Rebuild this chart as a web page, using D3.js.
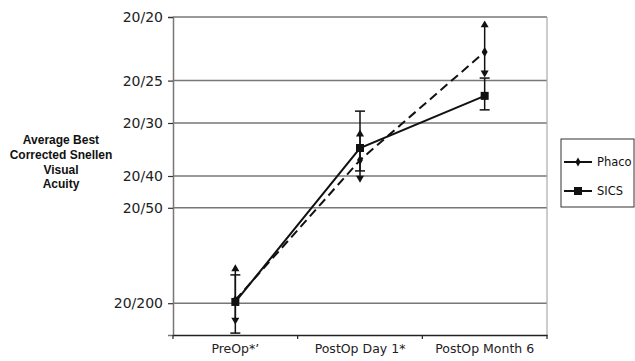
<!DOCTYPE html>
<html>
<head>
<meta charset="utf-8">
<script src="https://cdn.jsdelivr.net/npm/d3@7"></script>
<style>
  body { margin: 0; background: #fff; overflow: hidden; }
  svg { display: block; }
</style>
</head>
<body>
<svg id="chart"></svg>
<script>
// categories on the x axis
const categories = ['PreOp*\u2019', 'PostOp Day 1*', 'PostOp Month 6'];
// y values are decimal acuity (20/20 = 1.0), labels are Snellen
const tickValues = [1.0, 0.8, 0.6667, 0.5, 0.4, 0.1];
const tickLabels = ['20/20', '20/25', '20/30', '20/40', '20/50', '20/200'];

// Phaco series (mean, lower, upper)
const phacoMean = [0.11, 0.55, 0.89];
const phacoLow = [0.041, 0.487, 0.818];
const phacoHigh = [0.214, 0.638, 0.981];
// SICS series
const sicsMean = [0.104, 0.588, 0.752];
const sicsLow = [0.006, 0.516, 0.708];
const sicsHigh = [0.189, 0.704, 0.808];

const width = 635, height = 361;
const margin = { top: 17, right: 88, bottom: 26, left: 173 },
  innerWidth = width - margin.left - margin.right,
  innerHeight = height - margin.top - margin.bottom;

const svg = d3.select('#chart').attr('width', width).attr('height', height);
const g = svg.append('g').attr('transform', `translate(${margin.left},${margin.top})`);

const x = d3.scaleBand().domain(categories).range([0, innerWidth]);
const y = d3.scaleLinear().domain([0, 1]).range([innerHeight, 0]);

// gridlines
g.selectAll('.grid').data(tickValues).join('line')
  .attr('x1', 0).attr('x2', innerWidth)
  .attr('y1', d => y(d)).attr('y2', d => y(d))
  .attr('stroke', '#777').attr('stroke-width', 1.5);

// right border
g.append('line').attr('x1', innerWidth).attr('x2', innerWidth).attr('y1', 0).attr('y2', innerHeight)
  .attr('stroke', '#aaa').attr('stroke-width', 1.2);

// y axis
const yAxis = g.append('g')
  .call(d3.axisLeft(y).tickValues(tickValues).tickFormat((d, i) => tickLabels[i]).tickSize(5).tickPadding(5));
yAxis.select('.domain').attr('stroke', '#777').attr('stroke-width', 1.5);
yAxis.selectAll('.tick line').attr('stroke', '#333').attr('stroke-width', 1.2);
yAxis.selectAll('text').attr('font-family', 'DejaVu Sans').attr('font-size', 14).attr('fill', '#222');

// x axis
const xAxis = g.append('g').attr('transform', `translate(0,${innerHeight})`)
  .call(d3.axisBottom(x).tickSize(0).tickPadding(9));
xAxis.select('.domain').attr('stroke', '#222').attr('stroke-width', 1.5);
xAxis.selectAll('text').attr('font-family', 'DejaVu Sans').attr('font-size', 12.5).attr('fill', '#222');
// tick marks between categories
const bounds = [0, x.step(), x.step() * 2, innerWidth];
g.selectAll('.xtick').data(bounds).join('line')
  .attr('x1', d => d).attr('x2', d => d)
  .attr('y1', innerHeight).attr('y2', innerHeight + 4)
  .attr('stroke', '#222').attr('stroke-width', 1.2);

const cx = i => x(categories[i]) + x.bandwidth() / 2;

// error bars
const errG = g.append('g');
categories.forEach((c, i) => {
  errG.append('line').attr('x1', cx(i)).attr('x2', cx(i))
    .attr('y1', y(phacoLow[i])).attr('y2', y(phacoHigh[i]))
    .attr('stroke', '#111').attr('stroke-width', 1.5);
  errG.append('line').attr('x1', cx(i)).attr('x2', cx(i))
    .attr('y1', y(sicsLow[i])).attr('y2', y(sicsHigh[i]))
    .attr('stroke', '#111').attr('stroke-width', 1.5);
  // SICS flat caps
  [sicsLow[i], sicsHigh[i]].forEach(v => {
    errG.append('line').attr('x1', cx(i) - 5).attr('x2', cx(i) + 5)
      .attr('y1', y(v)).attr('y2', y(v))
      .attr('stroke', '#111').attr('stroke-width', 1.5);
  });
  // Phaco arrow ends
  errG.append('path').attr('d', d3.symbol(d3.symbolTriangle, 28)())
    .attr('transform', `translate(${cx(i)},${y(phacoHigh[i]) + 2})`).attr('fill', '#111');
  errG.append('path').attr('d', d3.symbol(d3.symbolTriangle, 28)())
    .attr('transform', `translate(${cx(i)},${y(phacoLow[i]) - 2}) rotate(180)`).attr('fill', '#111');
});

// lines
const line = d3.line().x((d, i) => cx(i)).y(d => y(d));
g.append('path').datum(phacoMean).attr('d', line)
  .attr('fill', 'none').attr('stroke', '#111').attr('stroke-width', 2).attr('stroke-dasharray', '9,5');
g.append('path').datum(sicsMean).attr('d', line)
  .attr('fill', 'none').attr('stroke', '#111').attr('stroke-width', 2);

// markers
g.selectAll('.phaco').data(phacoMean).join('path')
  .attr('d', d3.symbol(d3.symbolDiamond, 30)())
  .attr('transform', (d, i) => `translate(${cx(i)},${y(d)})`).attr('fill', '#111');
g.selectAll('.sics').data(sicsMean).join('rect')
  .attr('x', (d, i) => cx(i) - 4).attr('y', d => y(d) - 4)
  .attr('width', 8).attr('height', 8).attr('fill', '#111');

// y axis title, one text per line
const title = ['Average Best', 'Corrected Snellen', 'Visual', 'Acuity'];
svg.selectAll('.ytitle').data(title).join('text')
  .attr('class', 'ytitle')
  .attr('x', 61).attr('y', (d, i) => 144 + i * 14.8)
  .attr('font-family', 'Liberation Sans, Arial').attr('font-weight', 'bold').attr('font-size', 12)
  .attr('text-anchor', 'middle').attr('fill', '#111')
  .text(d => d);

// legend (box runs to the right edge of the picture)
const legend = svg.append('g').attr('transform', 'translate(561,139)');
legend.append('rect').attr('x', 0).attr('y', 0).attr('width', 73).attr('height', 68)
  .attr('fill', '#fff').attr('stroke', '#333').attr('stroke-width', 1);
const legendItems = ['Phaco', 'SICS'];
legendItems.forEach((name, i) => {
  const ly = 23 + i * 29;
  legend.append('line').attr('x1', 3).attr('x2', 31).attr('y1', ly).attr('y2', ly)
    .attr('stroke', '#111').attr('stroke-width', 2);
  if (i === 0) {
    legend.append('path').attr('d', d3.symbol(d3.symbolDiamond, 24)())
      .attr('transform', `translate(17,${ly})`).attr('fill', '#111');
  } else {
    legend.append('rect').attr('x', 13).attr('y', ly - 4).attr('width', 8).attr('height', 8).attr('fill', '#111');
  }
  legend.append('text').attr('x', 36).attr('y', ly + 4)
    .attr('font-family', 'DejaVu Sans').attr('font-size', 11.5).attr('fill', '#111').text(name);
});
</script>
</body>
</html>
